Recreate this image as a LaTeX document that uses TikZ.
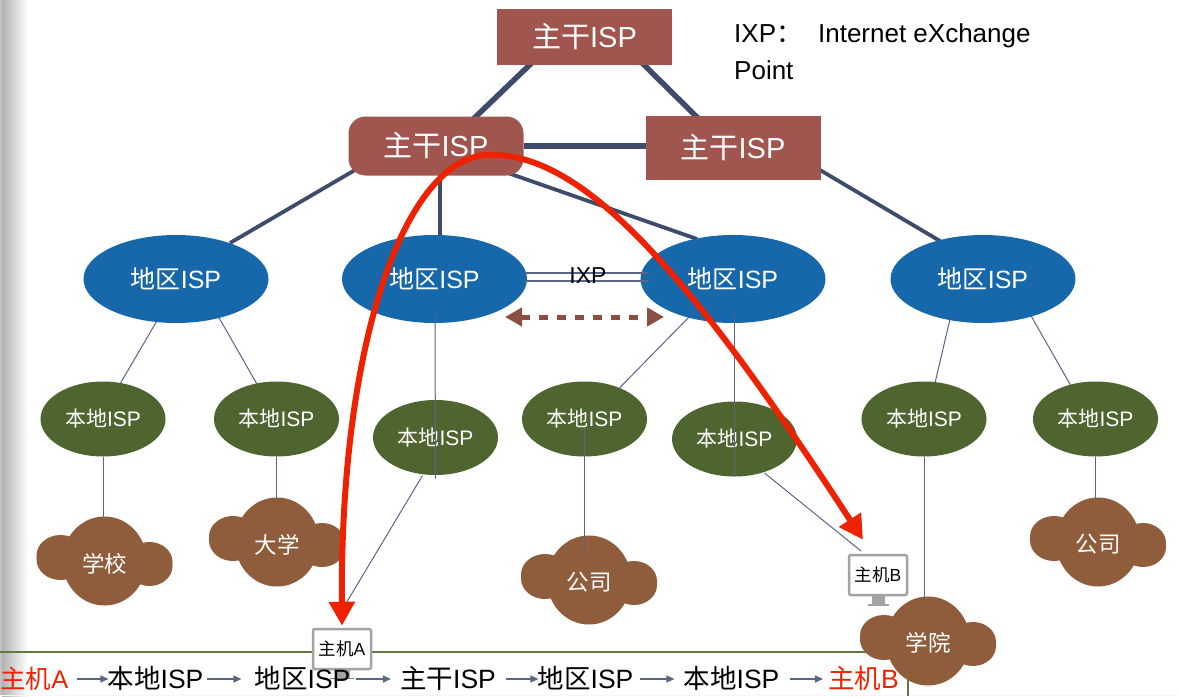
\documentclass[tikz,border=0pt]{standalone}
\usepackage{fontspec}
\setmainfont{Liberation Sans}
\newfontfamily\cjk{Noto Sans CJK SC}
\usetikzlibrary{shapes.geometric,arrows.meta,calc,backgrounds}
\newcommand\zh[1]{{\cjk #1}}
\newcommand\fsz[1]{\fontsize{#1}{#1}\selectfont}
\definecolor{coreRed}{HTML}{A0554F}
\definecolor{regBlue}{HTML}{1767AB}
\definecolor{locGreen}{HTML}{4E6530}
\definecolor{cloudBrown}{HTML}{8F5D3B}
\definecolor{thickLine}{HTML}{3F4B6B}
\definecolor{thinLine}{HTML}{5A6685}
\definecolor{redPath}{HTML}{EE2200}
\definecolor{dashBrown}{HTML}{8A4F40}
\definecolor{frameGreen}{HTML}{5F7A3F}
\definecolor{hostGray}{HTML}{A3A3A3}
\tikzset{
  corebox/.style={rectangle,fill=coreRed,text=white,inner sep=0pt,font=\fsz{29}},
  regell/.style={ellipse,fill=regBlue,text=white,inner sep=0pt,minimum width=185pt,minimum height=88pt,font=\fsz{25}},
  locell/.style={ellipse,fill=locGreen,text=white,inner sep=0pt,minimum width=125pt,minimum height=75pt,font=\fsz{21}},
  cloudtxt/.style={text=white,inner sep=0pt,font=\fsz{22.5}},
  hostbox/.style={rectangle,draw=hostGray,line width=2.5pt,rounded corners=2pt,fill=white,inner sep=0pt,minimum width=58pt,minimum height=40pt,font=\fsz{17.5}},
  thickln/.style={draw=thickLine,line width=5.5pt},
  midln/.style={draw=thickLine,line width=3.8pt},
  thinln/.style={draw=thinLine,line width=1pt},
  seqtxt/.style={inner sep=0pt,anchor=base,font=\fsz{26.5}},
  seqarrow/.style={draw=thinLine,line width=1.4pt,-{Triangle[length=8pt,width=7pt]}},
  redarrow/.style={draw=redPath,line width=6pt,-{Triangle[length=24pt,width=25pt]}},
}
\newcommand\cloudshape[5]{% name, x, y, text, text y offset
  \begin{scope}[shift={(#2,#3)}]
    \fill[cloudBrown] (0,0) ellipse [x radius=42pt,y radius=44.5pt];
    \fill[cloudBrown] (-44,-5.5) ellipse [x radius=24pt,y radius=20.5pt];
    \fill[cloudBrown] (-44,-1.5) ellipse [x radius=24pt,y radius=20.5pt];
    \fill[cloudBrown] (45,1) ellipse [x radius=23pt,y radius=20pt];
    \fill[cloudBrown] (45,5) ellipse [x radius=23pt,y radius=20pt];
  \end{scope}
  \node[cloudtxt] (#1) at (#2,#3+#5) {\zh{#4}};
}
\begin{document}
\begin{tikzpicture}[x=1pt,y=-1pt]
\useasboundingbox (0,0) rectangle (1177,696);
% ---- nodes ----
\node[corebox,minimum width=175pt,minimum height=56pt] (c1) at (584.5,37) {\zh{主干}ISP\hspace{7pt}};
\node[corebox,minimum width=175pt,minimum height=59pt,rounded corners=17pt] (c2) at (436,146) {\zh{主干}ISP};
\node[corebox,minimum width=175pt,minimum height=64pt] (c3) at (733,148) {\zh{主干}ISP};
\node[regell] (r1) at (176,279) {\zh{地区}ISP};
\node[regell] (r2) at (434.5,279) {\zh{地区}ISP};
\node[regell] (r3) at (733,279) {\zh{地区}ISP};
\node[regell] (r4) at (983,279) {\zh{地区}ISP};
\node[locell] (l1) at (103,419) {\zh{本地}ISP};
\node[locell] (l2) at (276.5,419) {\zh{本地}ISP};
\node[locell] (l3) at (435.5,437.5) {\zh{本地}ISP};
\node[locell] (l4) at (584.5,419) {\zh{本地}ISP};
\node[locell] (l5) at (734.5,439) {\zh{本地}ISP};
\node[locell] (l6) at (924,419) {\zh{本地}ISP};
\node[locell] (l7) at (1095.5,419) {\zh{本地}ISP};
% ---- clouds (学院 comes after host B) ----
\cloudshape{k1}{104.5}{561}{学校}{3}
\cloudshape{k2}{277}{542}{大学}{3}
\cloudshape{k3}{589}{580}{公司}{2}
\cloudshape{k4}{1098}{542}{公司}{2}
% ---- lines behind the nodes ----
\begin{scope}[on background layer]
  \fill[white] (0,0) rectangle (1177,696);
  \shade[left color=black!30,right color=white] (2,0) rectangle (28,696);
  \fill[black!24] (0,0) rectangle (2,696);
  \draw[thickln] ($(c1)+(-44.5,18)$) -- ($(c2)+(29,-19)$);
  \draw[thickln] ($(c1)+(49.5,18)$) -- ($(c3)+(-26,-21)$);
  \draw[thickln] (c2) -- (c2 -| c3);
  \draw[midln] ($(c2)+(-81,24)$) -- ($(r1)+(54,-36)$);
  \draw[midln] ($(c2)+(4,20)$) -- ($(r2)+(5.5,-33)$);
  \draw[midln] ($(c2)+(72,27)$) -- ($(r3)+(-36,-40)$);
  \draw[midln] ($(c3)+(87,22)$) -- ($(r4)+(-43,-38)$);
  \draw[thinln] ($(r1)+(-18,40)$) -- ($(l1)+(17,-35)$);
  \draw[thinln] ($(r1)+(42,37)$) -- ($(l2)+(-19,-34)$);
  \draw[thinln] ($(r3)+(-43,37)$) -- ($(l4)+(33,-29)$);
  \draw[thinln] ($(r4)+(-33,40)$) -- ($(l6)+(11,-36)$);
  \draw[thinln] ($(r4)+(47,35)$) -- ($(l7)+(-25,-34)$);
  \draw[thinln] (l1) -- (l1 |- k1);
  \draw[thinln] (l2) -- (l2 |- k2);
  \draw[thinln] (l7) -- (l7 |- k4);
  \draw[thinln] (l6) -- (924,640);
\end{scope}
% ---- lines over the nodes ----
\draw[thinln] ($(r2)+(0.5,36)$) -- ($(l3)+(0,41)$);
\draw[thinln] ($(r3)+(1.5,36)$) -- ($(l5)+(0,38)$);
\draw[thinln] ($(l4)+(0,9)$) -- ($(k3)+(-4.5,-28)$);
\coordinate (hA) at (342,649);
\coordinate (hB) at (878,575);
\draw[thinln] ($(l3)+(-13,38)$) -- ($(hA)+(3,-44)$);
\draw[thinln] ($(l5)+(30,34)$) -- ($(hB)+(-17,-24)$);
% ---- IXP ----
\draw[thinln,line width=1.4pt] ($(r2)+(90.5,-6)$) -- ($(r3)+(-84,-6)$);
\draw[thinln,line width=1.4pt] ($(r2)+(90.5,2)$) -- ($(r3)+(-84,2)$);
\node[inner sep=0pt,font=\fsz{23}] (ixp) at (588,276) {IXP};
\coordinate (dl) at (505,317);
\coordinate (dr) at (664,317);
\draw[draw=dashBrown,line width=5pt,dash pattern=on 9pt off 9pt,{Triangle[length=17pt,width=18pt]}-{Triangle[length=17pt,width=18pt]}] (dl) -- (dr);
% ---- legend ----
\node[inner sep=0pt,anchor=north west,align=left,font=\fontsize{26}{37}\selectfont] (legend) at (734,23) {IXP\zh{：}\hspace{16pt}Internet eXchange\\Point};
% ---- bottom frame ----
\fill[black!8!blue!4!white] (0,694.5) rectangle (1177,696);
\draw[draw=frameGreen,line width=1.5pt] (0,652) -- (908,652) -- (908,696);
% ---- hosts ----
\fill[hostGray] (335,669) rectangle (350,678);
\fill[black!50] (330,677.5) rectangle (354,679);
\node[hostbox] (ha) at (hA) {\zh{主机}A};
\fill[hostGray] (872,596) rectangle (885,604);
\fill[hostGray] (868,604) rectangle (889,605.5);
\node[hostbox] (hb) at (hB) {\zh{主机}B};
% ---- sequence ----
\node[seqtxt,text=redPath,font=\fsz{25.5}] (b1) at (34.5,688) {\zh{主机}A};
\node[seqtxt] (b2) at (155.5,688) {\zh{本地}ISP};
\node[seqtxt] (b3) at (302.5,688) {\zh{地区}ISP};
\node[seqtxt] (b4) at (448,688) {\zh{主干}ISP};
\node[seqtxt] (b5) at (585.5,688) {\zh{地区}ISP};
\node[seqtxt] (b6) at (731.5,688) {\zh{本地}ISP};
\node[seqtxt,text=redPath] (b7) at (863.5,688) {\zh{主机}B};
\draw[seqarrow] ($(b1.base east)+(8,-9)$) -- ($(b2.base west)+(1,-9)$);
\draw[seqarrow] ($(b2.base east)+(3,-9)$) -- ($(b3.base west)+(-13,-9)$);
\draw[seqarrow] ($(b3.base east)+(5,-9)$) -- ($(b4.base west)+(-9,-9)$);
\draw[seqarrow] ($(b4.base east)+(10,-9)$) -- ($(b5.base west)+(1,-9)$);
\draw[seqarrow] ($(b5.base east)+(6,-9)$) -- ($(b6.base west)+(-9,-9)$);
\draw[seqarrow] ($(b6.base east)+(10,-9)$) -- ($(b7.base west)+(-5,-9)$);
\cloudshape{k5}{928}{641}{学院}{2}
% ---- red path ----
\coordinate (peak) at (493,155);
\draw[redarrow] (peak) .. controls (410,150) and (340,330) .. ($(ha.north)+(0,-2)$);
\draw[redarrow] (peak) .. controls (590,155) and (700,290) .. ($(hb.north)+(-15,-14)$);
\end{tikzpicture}
\end{document}
